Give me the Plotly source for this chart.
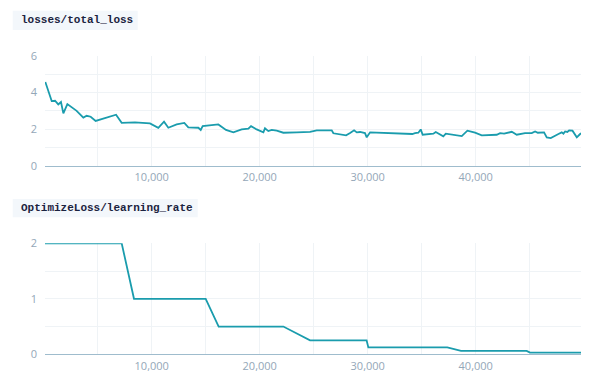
import plotly.graph_objects as go

loss_steps = [150, 740, 1050, 1350, 1600, 1820, 2190, 2650, 3050, 3670, 3980, 4350, 4810,
              6700, 7220, 8450, 9840, 10610, 11140, 11540, 12310, 13020, 13390, 14320, 14540,
              14720, 16170, 16880, 17560, 18330, 18950, 19200, 19720, 20340, 20490, 20800,
              21110, 21580, 22190, 23430, 24660, 25280, 26670, 26820, 27440, 28000, 28370,
              28740, 28990, 29290, 29750, 29910, 30220, 31910, 33760, 34130, 34380, 34690,
              34910, 35090, 36080, 36300, 37000, 37230, 38710, 39230, 39940, 40560, 41950,
              42260, 42630, 43340, 43800, 44570, 45190, 45500, 45750, 46330, 46580, 46950,
              47660, 47970, 48120, 48280, 48490, 48650, 48960, 49360, 49600, 49750]
loss_values = [4.57, 3.53, 3.55, 3.35, 3.48, 2.86, 3.37, 3.17, 3.0, 2.63, 2.73, 2.68, 2.45,
               2.79, 2.35, 2.37, 2.32, 2.08, 2.41, 2.08, 2.26, 2.34, 2.10, 2.08, 1.96,
               2.17, 2.26, 1.96, 1.83, 1.99, 2.03, 2.17, 1.99, 1.83, 2.05, 1.90,
               1.96, 1.92, 1.81, 1.83, 1.86, 1.94, 1.94, 1.78, 1.72, 1.67, 1.79,
               1.94, 1.83, 1.85, 1.79, 1.56, 1.83, 1.79, 1.78, 1.74, 1.79, 1.81,
               1.99, 1.70, 1.76, 1.85, 1.61, 1.76, 1.63, 1.92, 1.81, 1.67, 1.70,
               1.79, 1.76, 1.86, 1.70, 1.79, 1.79, 1.88, 1.81, 1.83, 1.56, 1.52,
               1.74, 1.83, 1.76, 1.88, 1.85, 1.94, 1.92, 1.56, 1.70, 1.79]

lr_steps = [120, 7220, 8360, 15000, 16200, 22190, 24660, 29900, 30060, 37370, 38640,
            44720, 45030, 49750]
lr_values = [2, 2, 1, 1, 0.5, 0.5, 0.25, 0.25, 0.125, 0.125, 0.0625, 0.0625, 0.03125, 0.03125]

titles = ["losses/total_loss", "OptimizeLoss/learning_rate"]
x_tick_vals = [10000, 20000, 30000, 40000]
x_tick_text = ["10,000", "20,000", "30,000", "40,000"]

LINE = "#1a9cad"
GRID = "#eff3f6"
AXIS = "#9fbccd"
TICK = "#94a7b8"
OFF = 8  # the page body adds an 8px margin
W, H = 600 - OFF, 384 - OFF


def px(v):
    return (v - OFF) / W


def py(v):
    return 1 - (v - OFF) / H


fig = go.Figure()
fig.add_trace(go.Scatter(x=loss_steps, y=loss_values, mode="lines",
                         line=dict(color=LINE, width=1.8), xaxis="x", yaxis="y",
                         showlegend=False))
fig.add_trace(go.Scatter(x=lr_steps, y=lr_values, mode="lines",
                         line=dict(color=LINE, width=1.8), xaxis="x2", yaxis="y2",
                         showlegend=False))

xdom = [px(45), px(581)]
xrange_ = [120, 49750]
common_x = dict(range=xrange_, domain=xdom, tickvals=x_tick_vals, ticktext=x_tick_text,
                showgrid=True, gridcolor=GRID, gridwidth=1, automargin=False,
                minor=dict(tickvals=[5000, 15000, 25000, 35000, 45000], showgrid=True,
                           gridcolor=GRID, gridwidth=1),
                showline=True, linecolor=AXIS, linewidth=1, zeroline=False,
                ticks="", tickfont=dict(family="Open Sans", size=11, color=TICK),
                ticklabelstandoff=1, fixedrange=True)
common_y = dict(showgrid=True, gridcolor=GRID, gridwidth=1, zeroline=False, showline=False,
                ticks="", tickfont=dict(family="Open Sans", size=11, color=TICK),
                ticklabelstandoff=7, automargin=False, fixedrange=True)

fig.update_layout(
    template="none",
    width=W, height=H, margin=dict(l=0, r=0, t=0, b=0, autoexpand=False),
    paper_bgcolor="white", plot_bgcolor="white",
    xaxis=dict(**common_x, anchor="y"),
    xaxis2=dict(**common_x, anchor="y2"),
    yaxis=dict(**common_y, domain=[py(166), py(55.7)], range=[0, 6],
               tickvals=[0, 2, 4, 6], minor=dict(tickvals=[1, 3, 5], showgrid=True,
                                                 gridcolor=GRID), anchor="x"),
    yaxis2=dict(**common_y, domain=[py(354.3), py(243.3)], range=[0, 2],
                tickvals=[0, 1, 2], minor=dict(tickvals=[0.5, 1.5], showgrid=True,
                                               gridcolor=GRID), anchor="x2"),
)

boxes = [(12.7, 137.7, 10.7, 30.0), (12.7, 197.7, 199.0, 217.3)]
for (x0, x1, y0, y1), t in zip(boxes, titles):
    fig.add_shape(type="rect", xref="paper", yref="paper",
                  x0=px(x0), x1=px(x1), y0=py(y1), y1=py(y0),
                  fillcolor="#f3f7fb", line=dict(width=0), layer="below")
    fig.add_annotation(text="<b>" + t + "</b>", xref="paper", yref="paper",
                       x=px(x0 + 6.5), y=py((y0 + y1) / 2), xanchor="left",
                       yanchor="middle", showarrow=False,
                       font=dict(family="Liberation Mono", size=11, color="#1b2340"))

fig.write_html("out.html")
